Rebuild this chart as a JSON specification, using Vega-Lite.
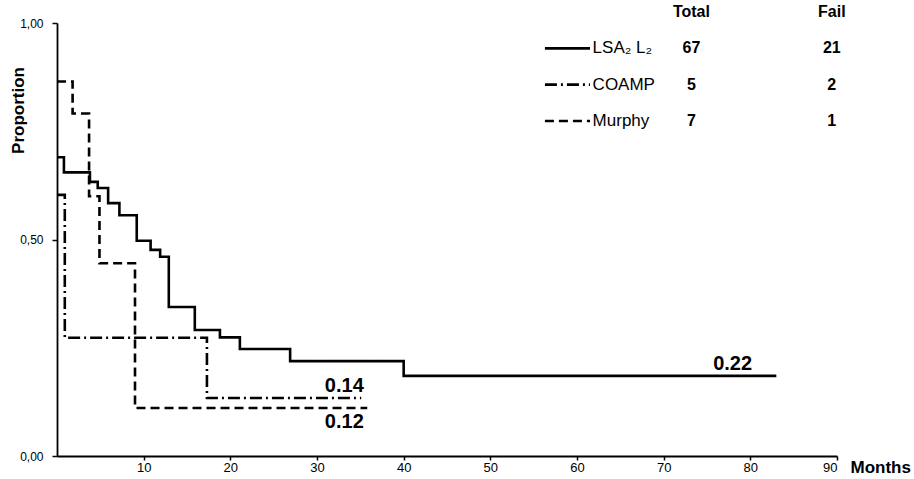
{
  "$schema": "https://vega.github.io/schema/vega-lite/v6.json",
  "width": 780,
  "height": 433,
  "autosize": {"type": "none"},
  "padding": {"left": 57, "top": 23, "right": 77, "bottom": 23},
  "background": "white",
  "config": {
    "view": {"stroke": null},
    "font": "Liberation Sans Narrow, Liberation Sans, sans-serif",
    "axis": {"domainColor": "black", "domainWidth": 1.8, "tickColor": "black", "tickWidth": 1.5, "grid": false, "labelColor": "black", "titleColor": "black", "labelFont": "Liberation Sans Narrow, Liberation Sans, sans-serif", "titleFont": "Liberation Sans Narrow, Liberation Sans, sans-serif"},
    "text": {"font": "Liberation Sans Narrow, Liberation Sans, sans-serif"}
  },
  "datasets": {
    "curves": [
      {"series": "LSA2L2", "month": 0, "prop": 0.69},
      {"series": "LSA2L2", "month": 0.8, "prop": 0.655},
      {"series": "LSA2L2", "month": 3.8, "prop": 0.633},
      {"series": "LSA2L2", "month": 4.7, "prop": 0.619},
      {"series": "LSA2L2", "month": 5.9, "prop": 0.584},
      {"series": "LSA2L2", "month": 7.2, "prop": 0.556},
      {"series": "LSA2L2", "month": 9.2, "prop": 0.497},
      {"series": "LSA2L2", "month": 10.8, "prop": 0.476},
      {"series": "LSA2L2", "month": 11.9, "prop": 0.46},
      {"series": "LSA2L2", "month": 12.9, "prop": 0.344},
      {"series": "LSA2L2", "month": 15.9, "prop": 0.291},
      {"series": "LSA2L2", "month": 18.8, "prop": 0.274},
      {"series": "LSA2L2", "month": 21.1, "prop": 0.247},
      {"series": "LSA2L2", "month": 26.9, "prop": 0.219},
      {"series": "LSA2L2", "month": 40, "prop": 0.185},
      {"series": "LSA2L2", "month": 83, "prop": 0.185},
      {"series": "COAMP", "month": 0, "prop": 0.603},
      {"series": "COAMP", "month": 0.9, "prop": 0.273},
      {"series": "COAMP", "month": 17.3, "prop": 0.134},
      {"series": "COAMP", "month": 35.1, "prop": 0.134},
      {"series": "Murphy", "month": 0, "prop": 0.865},
      {"series": "Murphy", "month": 1.8, "prop": 0.791},
      {"series": "Murphy", "month": 3.7, "prop": 0.6},
      {"series": "Murphy", "month": 4.9, "prop": 0.445},
      {"series": "Murphy", "month": 9.0, "prop": 0.111},
      {"series": "Murphy", "month": 35.8, "prop": 0.111}
    ],
    "notes": [
      {"label": "0.14", "month": 35.4, "prop": 0.134, "side": "above"},
      {"label": "0.22", "month": 80.2, "prop": 0.185, "side": "above"},
      {"label": "0.12", "month": 35.4, "prop": 0.111, "side": "below"}
    ],
    "table": [
      {"series": "header", "name": "", "total": "Total", "fail": "Fail"},
      {"series": "LSA2L2", "name": "LSA₂ L₂", "total": "67", "fail": "21"},
      {"series": "COAMP", "name": "COAMP", "total": "5", "fail": "2"},
      {"series": "Murphy", "name": "Murphy", "total": "7", "fail": "1"}
    ]
  },
  "layer": [
    {
      "layer": [
        {
          "data": {"name": "curves"},
          "mark": {"type": "line", "interpolate": "step-after", "color": "black", "strokeWidth": 2.6, "strokeCap": "butt"},
          "encoding": {
            "x": {"field": "month", "type": "quantitative", "scale": {"domain": [0, 90], "nice": false},
              "axis": {"values": [10, 20, 30, 40, 50, 60, 70, 80, 90], "title": "Months", "titleX": 793, "titleY": 11, "titleAlign": "left", "titleBaseline": "middle", "titleAngle": 0, "titleFontSize": 17, "titleFontWeight": "bold", "labelFontSize": 13, "tickSize": 4, "labelPadding": 1}},
            "y": {"field": "prop", "type": "quantitative", "scale": {"domain": [0, 1], "nice": false},
              "axis": {"values": [0, 0.5, 1], "labelExpr": "replace(format(datum.value, '.2f'), '.', ',')", "title": "Proportion", "titleX": -39, "titleY": 87, "titleAlign": "center", "titleBaseline": "middle", "titleFontSize": 17, "titleFontWeight": "bold", "labelFontSize": 12, "tickSize": 5, "labelPadding": 9}},
            "strokeDash": {"field": "series", "type": "nominal", "scale": {"domain": ["LSA2L2", "COAMP", "Murphy"], "range": [[1, 0], [12, 4, 2, 4], [9, 5]]}, "legend": null},
            "detail": {"field": "series"}
          }
        },
        {
          "data": {"name": "notes"},
          "transform": [{"filter": "datum.side == 'above'"}],
          "mark": {"type": "text", "align": "right", "baseline": "bottom", "dy": -2, "fontSize": 20, "fontWeight": "bold", "color": "black"},
          "encoding": {
            "x": {"field": "month", "type": "quantitative"},
            "y": {"field": "prop", "type": "quantitative"},
            "text": {"field": "label"}
          }
        },
        {
          "data": {"name": "notes"},
          "transform": [{"filter": "datum.side == 'below'"}],
          "mark": {"type": "text", "align": "right", "baseline": "top", "dy": 4, "fontSize": 20, "fontWeight": "bold", "color": "black"},
          "encoding": {
            "x": {"field": "month", "type": "quantitative"},
            "y": {"field": "prop", "type": "quantitative"},
            "text": {"field": "label"}
          }
        }
      ]
    },
    {
      "data": {"name": "table"},
      "encoding": {
        "y": {"field": "series", "type": "nominal", "scale": {"domain": ["header", "LSA2L2", "COAMP", "Murphy"], "type": "point", "padding": 0, "range": [-11, 98]}, "axis": null}
      },
      "layer": [
        {
          "transform": [{"filter": "datum.series != 'header'"}],
          "mark": {"type": "rule", "color": "black", "strokeWidth": 2.6},
          "encoding": {
            "x": {"datum": 56.3, "type": "quantitative"},
            "x2": {"datum": 61.5},
            "strokeDash": {"field": "series", "type": "nominal", "scale": {"domain": ["LSA2L2", "COAMP", "Murphy"], "range": [[1, 0], [12, 4, 2, 4], [9, 5]]}, "legend": null}
          }
        },
        {
          "mark": {"type": "text", "align": "left", "baseline": "middle", "fontSize": 17, "color": "black"},
          "encoding": {
            "x": {"datum": 61.8, "type": "quantitative"},
            "text": {"field": "name"}
          }
        },
        {
          "mark": {"type": "text", "align": "center", "baseline": "middle", "fontSize": 16, "fontWeight": "bold", "color": "black"},
          "encoding": {
            "x": {"datum": 73.2, "type": "quantitative"},
            "text": {"field": "total"}
          }
        },
        {
          "mark": {"type": "text", "align": "center", "baseline": "middle", "fontSize": 16, "fontWeight": "bold", "color": "black"},
          "encoding": {
            "x": {"datum": 89.4, "type": "quantitative"},
            "text": {"field": "fail"}
          }
        }
      ]
    }
  ],
  "resolve": {"scale": {"y": "independent"}}
}
